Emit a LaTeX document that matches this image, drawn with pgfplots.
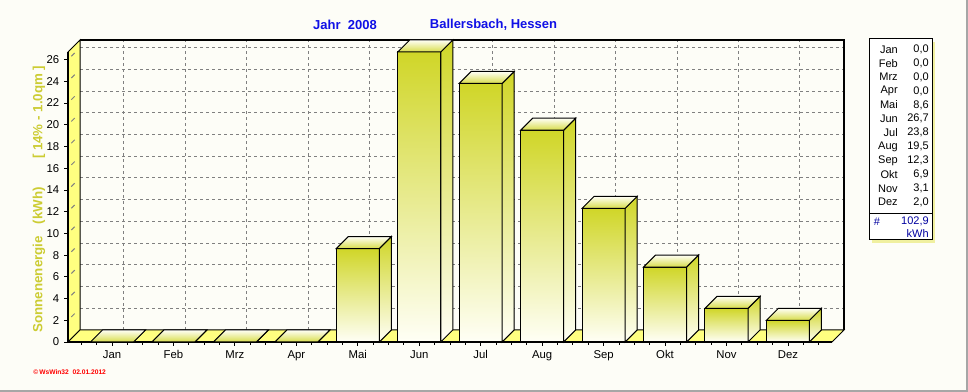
\documentclass[border=0pt]{standalone}
\usepackage{pgfplots}
\pgfplotsset{compat=1.18}
\usepackage{pgfplotstable}
\usepackage{fontspec}
\setmainfont{Liberation Sans}
\definecolor{bg}{RGB}{253,253,247}
\definecolor{wallY}{RGB}{255,255,128}
\definecolor{barTop}{RGB}{208,214,40}
\definecolor{barBot}{RGB}{255,255,246}
\definecolor{gridG}{RGB}{128,128,128}
\definecolor{ylab}{RGB}{204,204,51}
\definecolor{ttl}{RGB}{16,16,230}
\definecolor{legblue}{RGB}{0,0,160}
\definecolor{shadowY}{RGB}{240,240,160}
\pgfdeclareplotmark{nothing}{}
\newdimen\hhd
\pgfplotstableread{
i v
0 0
1 0
2 0
3 0
4 8.6
5 26.7
6 23.8
7 19.5
8 12.3
9 6.9
10 3.1
11 2.0
}\energy
\begin{document}
\begin{tikzpicture}
\begin{scope}[x=0.75pt,y=0.75pt]
\fill[bg] (0,0) rectangle (968,392);
\fill[gray!70] (0,0) rectangle (968,1.5);
\fill[gray!70] (966,0) rectangle (968,392);
\end{scope}
\begin{axis}[
  at={(51pt,37.5pt)}, anchor=south west, scale only axis,
  width=573pt, height=217.5pt,
  xmin=-0.716, xmax=11.717, ymin=0, ymax=26.7,
  clip=false,
  axis x line*=bottom, axis y line*=left,
  axis line style={draw=none},
  tick align=outside,
  major tick length=3pt, minor tick length=2.25pt,
  tick style={black, line width=0.6pt},
  xtick={0,...,11},
  xticklabels={Jan,Feb,Mrz,Apr,Mai,Jun,Jul,Aug,Sep,Okt,Nov,Dez},
  minor xtick={-0.5,-0.25,...,11.5},
  ytick={0,2,...,26},
  /pgf/number format/assume math mode=true,
  ticklabel style={font=\fontsize{8.5}{10}\selectfont},
]
% back wall grid
\pgfplotsinvokeforeach{2,4,...,26}{
  \draw[gridG, line width=0.75pt, dash pattern=on 2.25pt off 2.25pt]
    ([shift={(9pt,9pt)}]axis cs:-0.716,#1) -- ([shift={(9pt,9pt)}]axis cs:11.717,#1);
}
\pgfplotsinvokeforeach{0,...,11}{
  \draw[gridG, line width=0.75pt, dash pattern=on 2.25pt off 2.25pt]
    ([shift={(9pt,9pt)}]axis cs:#1,0) -- ([shift={(9pt,9pt)}]axis cs:#1,26.7);
}
% back wall outline
\draw[black, line width=1pt] ([shift={(9pt,9pt)}]axis cs:-0.716,26.7) -- ([shift={(9pt,9pt)}]axis cs:11.717,26.7) -- ([shift={(9pt,9pt)}]axis cs:11.717,0);
% left wall
\filldraw[fill=wallY, draw=black, line width=0.75pt] (axis cs:-0.716,0) -- ([shift={(9pt,9pt)}]axis cs:-0.716,0) -- ([shift={(9pt,9pt)}]axis cs:-0.716,26.7) -- (axis cs:-0.716,26.7) -- cycle;
\pgfplotsinvokeforeach{2,4,...,26}{
  \draw[gridG, line width=0.75pt]
    ([shift={(2.5pt,2.5pt)}]axis cs:-0.716,#1) -- ([shift={(5pt,5pt)}]axis cs:-0.716,#1);
}
% floor
\filldraw[fill=wallY, draw=black, line width=0.75pt] (axis cs:-0.716,0) -- ([shift={(9pt,9pt)}]axis cs:-0.716,0) -- ([shift={(9pt,9pt)}]axis cs:11.717,0) -- (axis cs:11.717,0) -- cycle;
% 3D bars: front, side and top faces, each with its own gradient
\addplot[scatter, only marks, mark=nothing,
  visualization depends on={\thisrow{v} \as \barv},
  scatter/@pre marker code/.code={%
    \pgfmathsetlength{\hhd}{8.1461pt*\barv}%
    \ifdim\hhd>0.5pt
      \filldraw[draw=black, line width=0.75pt, top color=barTop, bottom color=barBot]
        (-16.13pt,0pt) rectangle (16.13pt,-\hhd);
    \fi
    \filldraw[draw=black, line width=0.75pt, top color=barTop, bottom color=barBot]
      (16.13pt,0pt) -- (25.13pt,9pt) -- (25.13pt,9pt-\hhd) -- (16.13pt,-\hhd) -- cycle;
    \filldraw[draw=black, line width=0.75pt, top color=barBot, bottom color=barTop!85!white]
      (-16.13pt,0pt) -- (16.13pt,0pt) -- (25.13pt,9pt) -- (-7.13pt,9pt) -- cycle;
  },
  scatter/@post marker code/.code={},
] table[x=i,y=v]{\energy};
% front axes
\draw[black, line width=1.5pt] (axis cs:-0.716,26.7) -- (axis cs:-0.716,0);
\draw[black, line width=1.2pt] (axis cs:-0.716,0) -- (axis cs:11.717,0);
\end{axis}
\begin{scope}[x=0.75pt,y=0.75pt]
% titles
\node[font=\fontsize{9.75}{11}\selectfont\bfseries, text=ttl] at (345,367) {Jahr~~2008};
\node[font=\fontsize{9.75}{11}\selectfont\bfseries, text=ttl] at (493.5,367) {Ballersbach, Hessen};
% y label
\node[rotate=90, font=\fontsize{10}{12}\selectfont\bfseries, text=ylab] at (39,193)
  {Sonnenenergie\hspace{9pt}(kWh)\hspace{21pt}[ 14\% - 1.0qm ]};
% footer
\node[anchor=west, inner sep=0pt, font=\fontsize{5}{6}\selectfont\bfseries, text=red] at (33,20)
  {©\,WsWin32~~02.01.2012};
% legend box
\fill[shadowY] (872,149) rectangle (935,350);
\filldraw[fill=white, draw=black, line width=0.75pt] (869,152) rectangle (932,353);
\draw[black, line width=0.75pt] (869,178) -- (932,178);
\foreach \m/\val [count=\k from 0] in {Jan/{0,0},Feb/{0,0},Mrz/{0,0},Apr/{0,0},Mai/{8,6},Jun/{26,7},Jul/{23,8},Aug/{19,5},Sep/{12,3},Okt/{6,9},Nov/{3,1},Dez/{2,0}}{
  \node[anchor=east, inner sep=0pt, font=\fontsize{8.25}{10}\selectfont] at (898,{342.7-13.9*\k}) {\m};
  \node[anchor=east, inner sep=0pt, font=\fontsize{8.25}{10}\selectfont] at (929,{342.7-13.9*\k}) {\val};
}
\node[inner sep=0pt, font=\fontsize{8.25}{10}\selectfont, text=legblue] at (877,170.3) {\#};
\node[anchor=east, inner sep=0pt, font=\fontsize{8.25}{10}\selectfont, text=legblue] at (929,170.3) {102,9};
\node[anchor=east, inner sep=0pt, font=\fontsize{8.25}{10}\selectfont, text=legblue] at (929,158.7) {kWh};
\end{scope}
\end{tikzpicture}
\end{document}
